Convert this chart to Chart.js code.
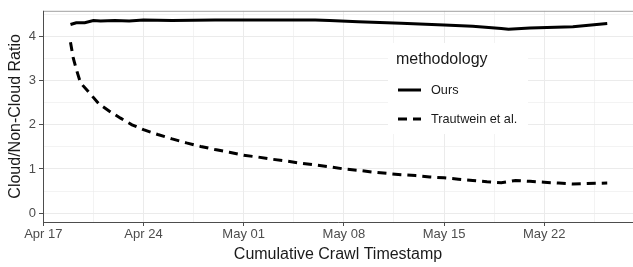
<!DOCTYPE html>
<html>
<head>
<meta charset="utf-8">
<script src="https://cdn.jsdelivr.net/npm/chart.js@4"></script>
<style>
  html, body { margin: 0; padding: 0; background: #fff; }
  #wrap { width: 633px; height: 267px; }
</style>
</head>
<body>
<div id="wrap"><canvas id="chart" width="633" height="267"></canvas></div>
<script>
// days since Apr 17 (Apr 17 = 0)
const tickDays = [0, 7, 14, 21, 28, 35];
const tickLabels = ['Apr 17', 'Apr 24', 'May 01', 'May 08', 'May 15', 'May 22'];

const oursDays = [1.9, 2.3, 2.9, 3.5, 4, 5, 6, 7, 9, 12, 16, 19, 20, 22, 25, 28, 30, 32, 32.5, 34, 37, 39.4];
const oursRatio = [4.27, 4.31, 4.31, 4.36, 4.35, 4.36, 4.35, 4.37, 4.36, 4.37, 4.37, 4.37, 4.36, 4.33, 4.30, 4.26, 4.23, 4.18, 4.16, 4.19, 4.22, 4.29];

const trautDays = [1.9, 2.1, 2.35, 2.6, 3.2, 3.9, 4.7, 5.4, 6.2, 7, 8, 9, 10, 11, 12, 13, 14, 15, 16, 17, 18, 19, 20, 21, 22, 23, 24, 25, 26, 27, 28, 29, 30, 31, 32, 33, 34, 35, 36, 37, 38, 39.4];
const trautRatio = [3.87, 3.5, 3.21, 2.95, 2.73, 2.47, 2.29, 2.15, 2.0, 1.89, 1.78, 1.68, 1.59, 1.51, 1.44, 1.38, 1.31, 1.27, 1.22, 1.18, 1.13, 1.09, 1.05, 1.00, 0.97, 0.93, 0.90, 0.87, 0.85, 0.82, 0.80, 0.77, 0.74, 0.71, 0.69, 0.74, 0.72, 0.70, 0.68, 0.66, 0.67, 0.68];

const FONT = 'Liberation Sans, Arial, sans-serif';

const toPoints = (xs, ys) => xs.map((x, i) => ({ x: x, y: ys[i] }));

// legend drawn inside the panel, ggplot style
const insideLegend = {
  id: 'insideLegend',
  afterDraw(chart) {
    const ctx = chart.ctx;
    const x0 = 388, y0 = 43;
    ctx.save();
    ctx.fillStyle = '#fff';
    ctx.fillRect(x0, y0, 140, 91);
    ctx.fillStyle = '#1a1a1a';
    ctx.font = '16px ' + FONT;
    ctx.textBaseline = 'middle';
    ctx.fillText('methodology', x0 + 8, y0 + 17);
    ctx.font = '12.7px ' + FONT;
    chart.data.datasets.forEach((ds, i) => {
      const y = y0 + 47 + i * 29;
      ctx.strokeStyle = '#000';
      ctx.lineWidth = 3;
      ctx.setLineDash(ds.borderDash || []);
      ctx.beginPath();
      ctx.moveTo(x0 + 10, y);
      ctx.lineTo(x0 + 33, y);
      ctx.stroke();
      ctx.setLineDash([]);
      ctx.fillStyle = '#1a1a1a';
      ctx.fillText(ds.label, x0 + 43, y);
    });
    // axis lines (left, bottom) and light top edge
    const a = chart.chartArea;
    ctx.lineWidth = 1;
    ctx.strokeStyle = '#a0a0a0';
    ctx.beginPath();
    ctx.moveTo(a.left, a.top + 0.5);
    ctx.lineTo(a.right, a.top + 0.5);
    ctx.stroke();
    ctx.strokeStyle = '#4d4d4d';
    ctx.beginPath();
    ctx.moveTo(a.left + 0.5, a.top);
    ctx.lineTo(a.left + 0.5, a.bottom + 0.5);
    ctx.lineTo(a.right, a.bottom + 0.5);
    ctx.stroke();
    ctx.restore();
  }
};

new Chart(document.getElementById('chart'), {
  type: 'line',
  data: {
    datasets: [
      {
        label: 'Ours',
        data: toPoints(oursDays, oursRatio),
        borderColor: '#000',
        borderWidth: 3,
        pointRadius: 0,
        tension: 0,
        fill: false
      },
      {
        label: 'Trautwein et al.',
        data: toPoints(trautDays, trautRatio),
        borderColor: '#000',
        borderWidth: 3,
        borderDash: [9, 6],
        pointRadius: 0,
        tension: 0,
        fill: false
      }
    ]
  },
  options: {
    responsive: false,
    animation: false,
    layout: { padding: { top: 4, right: 0, left: 0, bottom: 0 } },
    plugins: { legend: { display: false }, tooltip: { enabled: false } },
    scales: {
      x: {
        type: 'linear',
        min: -0.02,
        max: 41.2,
        afterFit: s => { s.height = 45; },
        afterBuildTicks: s => {
          const t = [];
          for (let d = 0; d <= 41; d += 3.5) t.push({ value: d });
          s.ticks = t;
        },
        ticks: {
          autoSkip: false,
          maxRotation: 0,
          color: '#4d4d4d',
          font: { family: FONT, size: 13 },
          padding: 1,
          callback: v => {
            const i = tickDays.indexOf(v);
            return i >= 0 ? tickLabels[i] : '';
          }
        },
        grid: {
          color: '#ebebeb',
          lineWidth: ctx => (ctx.tick && ctx.tick.value % 7 === 0 ? 1 : 0.6),
          tickColor: ctx => (ctx.tick && ctx.tick.value % 7 === 0 ? '#4d4d4d' : 'rgba(0,0,0,0)'),
          tickLength: 4
        },
        border: { display: false },
        title: {
          display: true,
          text: 'Cumulative Crawl Timestamp',
          color: '#1a1a1a',
          font: { family: FONT, size: 16 },
          padding: { top: 0, bottom: 3 }
        }
      },
      y: {
        min: -0.2,
        max: 4.58,
        afterFit: s => { s.width = 43; },
        afterBuildTicks: s => {
          const t = [];
          for (let v = 0; v <= 4.5; v += 0.5) t.push({ value: v });
          s.ticks = t;
        },
        ticks: {
          autoSkip: false,
          color: '#4d4d4d',
          font: { family: FONT, size: 13 },
          padding: 3,
          callback: v => (Number.isInteger(v) ? String(v) : '')
        },
        grid: {
          color: '#ebebeb',
          lineWidth: ctx => (ctx.tick && Number.isInteger(ctx.tick.value) ? 1 : 0.6),
          tickColor: ctx => (ctx.tick && Number.isInteger(ctx.tick.value) ? '#4d4d4d' : 'rgba(0,0,0,0)'),
          tickLength: 4
        },
        border: { display: false },
        title: {
          display: true,
          text: 'Cloud/Non-Cloud Ratio',
          color: '#1a1a1a',
          font: { family: FONT, size: 16 },
          padding: { top: 6, bottom: 0 }
        }
      }
    }
  },
  plugins: [insideLegend]
});
</script>
</body>
</html>
